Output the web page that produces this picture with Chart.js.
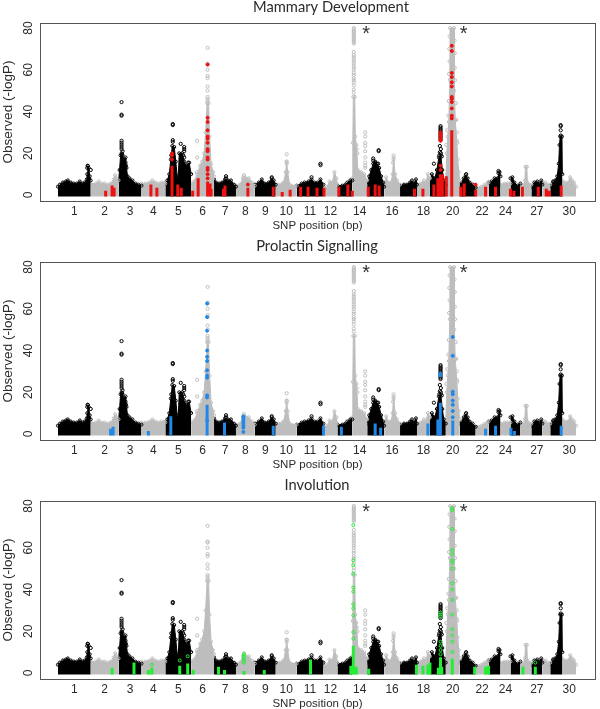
<!DOCTYPE html>
<html>
<head>
<meta charset="utf-8">
<style>
  html, body { margin: 0; padding: 0; background: #fff; overflow: hidden; }
  canvas { position: absolute; left: 0; }
</style>
<script src="https://cdn.jsdelivr.net/npm/chart.js@4"></script>
</head>
<body>
<canvas id="panel1" width="600" height="234" style="top:-3px"></canvas>
<canvas id="panel2" width="600" height="234" style="top:236px"></canvas>
<canvas id="panel3" width="600" height="234" style="top:475px"></canvas>
<script>
// x values are plot units along the genome axis, y values are -logP

const chromLabels = ['1','2','3','4','5','6','7','8','9','10','11','12','','14','','16','','18','','20','','22','','24','','','27','','','30'];
const chromStarts = [58,91,119,142,166,192,215,237,256,277,298,325,339,354,369,386,402,419,432,448,462,478,491,503,513,523,534,545,553,565];
const chromEnds = [91,119,142,166,192,215,237,256,277,298,325,339,354,369,386,402,419,432,448,462,478,491,503,513,523,534,545,553,565,579];
const yTicks = [0,20,40,60,80];

// upper edge of the solid mass of SNPs on each chromosome
const chr1 = [[58,4],[60,5],[63,6],[66,6.5],[68,7],[71,6],[74,5.5],[77,5.5],[80,6.5],[83,5.5],[85,6],[87,7.5],[87.5,10],[88,14],[89,13],[90,9],[91,7]];
const chr2 = [[91,5.5],[96,5.5],[99,6.5],[102,5.5],[105,5.5],[108,5],[111,5.5],[114,7.5],[115.5,9.5],[117,8],[119,7]];
const chr3 = [[119,7],[120,12],[121,19],[122,20],[123,19],[124,17],[126,18],[127,13],[128,9],[130,8],[133,7],[136,5.5],[139,5],[142,4.5]];
const chr4 = [[142,5.5],[146,5.5],[150,6],[153,7],[156,6],[159,5.5],[162,6],[165,6],[166,5.5]];
const chr5 = [[166,5.5],[168,7],[170,10],[171.5,17],[173,23.5],[175,23],[176.5,16],[178,9],[179,8],[180,20],[183,20],[185,16],[187,14],[190,15.5],[192,10]];
const chr6 = [[192,5.5],[195,6.5],[198,10],[201,14],[203,16],[205,20],[206.5,30],[208,44],[209.5,44],[210.5,28],[212,15],[214,11],[215,9]];
const chr7 = [[215,7.5],[217,6],[220,5.5],[223,6],[226,7.5],[229,7],[232,7],[235,5],[237,4]];
const chr8 = [[237,4.5],[241,5],[244,8],[247,8],[250,8],[253,6],[256,4.5]];
const chr9 = [[256,5],[260,6],[263,7.5],[266,5.5],[270,6],[273,8],[275,7],[277,5]];
const chr10 = [[277,4],[280,5],[283,5],[285,6],[287,11],[288,16],[289,11],[291,5],[298,4.5]];
const chr11 = [[298,4.5],[303,5.5],[306,6],[310,6.5],[313,7.5],[316,6],[319,6],[322,7.5],[325,5]];
const chr12 = [[325,3.5],[329,4],[331,6.5],[334,6],[336,11],[338,8],[339,5]];
const chr13 = [[339,4.5],[344,4.5],[347,5],[349,6],[352,7],[354,7]];
const chr14 = [[354,8],[354.5,25],[355,47],[356.5,47],[357,28],[358.5,22],[359.5,12],[363,11],[366,10],[369,7]];
const chr15 = [[369,5],[371,9],[373,12],[375,15],[377,16],[379,15],[381,13],[383,9],[385,6],[386,4]];
const chr16 = [[386,5],[388,8.5],[390,6],[393,6],[394.5,10],[395.5,18],[397,10],[399,7],[402,5]];
const chr17 = [[402,4.5],[406,5],[409,5],[412,6],[414,7],[416,5.5],[418,7.5],[419,5]];
const chr18 = [[419,5],[423,5.5],[426,7],[428,6],[430,10],[432,8]];
const chr19 = [[432,5],[434,10],[437,8],[439,12],[441,18],[443,19],[444.5,12],[446,7],[448,5]];
const chr20 = [[448,7],[449,20],[450,28],[451,35],[452,55],[452.3,80],[456.3,80],[456.6,50],[457.5,36],[459,26],[460,17],[461,11],[462,7]];
const chr21 = [[462,5],[464,6],[466,8],[468,9.5],[470,8],[472,6],[475,5],[478,3.5]];
const chr22 = [[478,3.5],[481,3.5],[484,4],[487,5],[491,6]];
const chr23 = [[491,6],[494,6.5],[497,8],[500,8],[502,11],[503,9]];
const chr24 = [[503,5],[507,5.5],[510,5.5],[513,5.5]];
const chr25 = [[513,8],[515,8.5],[517,6],[520,4.5],[523,5.5]];
const chr26 = [[523,4.5],[526,4.5],[527.5,7],[528,13.5],[529.5,13.5],[530,6],[534,5]];
const chr27 = [[534,4],[537,6],[540,6.5],[542,5.5],[544,7],[545,5]];
const chr28 = [[545,6],[548,6],[550,5],[553,5]];
const chr29 = [[553,4.5],[556,6],[558,7],[560,9],[561.5,15],[562.3,24],[563,28],[564.8,28],[565.2,10]];
const chr30 = [[565,7],[568,6],[571,6],[573,8.5],[575,7],[577,6],[579,4]];
const chromEdges = [chr1,chr2,chr3,chr4,chr5,chr6,chr7,chr8,chr9,chr10,chr11,chr12,chr13,chr14,chr15,chr16,chr17,chr18,chr19,chr20,chr21,chr22,chr23,chr24,chr25,chr26,chr27,chr28,chr29,chr30];

// single SNPs above the mass
const blackOutliers = [[88,14],[87.5,13],[91,12],[122,44.5],[122,38.5],[122,38],[122,26],[122,25],[122,24],[122,23],[122,22],[123,21],[122.5,19.5],[125,17],[126,15.5],[126.5,14],
  [173.5,34],[173.5,33.5],[173.5,26.3],[173.5,25.5],[172,19],[174,18.5],[181.5,24.5],[185,23],[185,22],[185,21],[184,19],[185,18],[183,17],[189,15.5],[227,9],[227,8],[273,8.5],[322,15],[322,14.3],[313,8.5],
  [380.5,21.5],[380.5,21],[375,17.5],[375,16.5],[377,15.5],[380,15],[442.7,33],[442.7,32.3],[442.7,31.6],[442.7,31],[442.7,30.3],[442.7,29.6],[442.7,29],[442.7,28.3],[442.7,27.6],[442.7,27],[442.7,26.3],
  [442,23.5],[443,22],[442,20.5],[443,20],[441.5,19],[444,18.5],[436,15],[468.5,10],[501,11.5],[501,10.5],[556,6.5],[563.5,33.5],[563.5,33],[563.5,31],[563.5,28.5]];
const grayOutliers = [[198,26],[198,18],[198,11],[208.5,70.5],[208.5,63],[208.5,62.5],[208.5,60],[208.5,57],[208.5,56],[208.5,52],[208.5,50],[208.5,47],[208.5,46],[208.5,45],[245,9.5],[245,8.5],
  [288,19.5],[288,16],[288,15],[284,5.5],[367,30],[367,28],[367,25],[367,23.5],[367,21],[367,18],[367,15.5],[367,14],[367,13],[358,24],[359,20],[395.5,19],[395.5,17],[395,15.5],
  [355.5,80],[355.5,79.3],[355.5,78.6],[355.5,78],[355.5,77.3],[355.5,76.6],[355.5,76],[355.5,75.3],[355.5,74.6],[355.5,74],[355.5,73.3],[355.5,72.6],
  [355.5,68.5],[355.5,67],[355.5,66],[355.5,65],[355.5,64],[355.5,63],[355.5,62],[355.5,61],[355.5,60],[355.5,58.5],[355.5,57.5],[355.5,56],[355.5,55],[355.5,54],[355.5,52.5],[355.5,50.5],[355.5,49],
  [451.8,76],[456.8,74],[451.5,70],[457,68],[451.8,64],[457,61],[451.3,58],[457.2,55],[451,45],[458,44],[450.5,38],[458.5,36],[449.5,31],[459,30],[459.5,25],[448.5,24]];

// highlighted gene sets: columns are [x, top], dots are [x, y]
const mammaryColumns = [[106,2],[112.5,4.5],[114.5,3.5],[151.5,5],[157.5,3.5],[172.7,14],[178.5,5],[182,3.5],[193.5,2],[199,8],[208.5,6.5],[211,5.5],[212,3],[224.5,3],[226,4.5],[249,3.5],[274.5,4],[283.5,1.5],[291.5,2.5],
  [302,4],[309.5,4],[318.5,3.5],[325.5,3.5],[340.5,4],[349.5,5],[354,2],[370,4],[377,5],[381,4.5],[416.5,3],[425,3],[436,5],[440,8],[442.5,10],[444.5,10],[448.5,9],[454,31],[463,4],[466.5,5.5],[478,2.5],[488,4],[498,4],[513,3],[516.5,2],[525,4],[541,4],[549,3],[552,2],[564,4.5]];
const mammaryDots = [[172.7,20],[172.7,19],[172.7,17],[208.5,62.5],[208.5,37],[208.5,35],[208.5,31],[208.5,28],[208.5,27],[208.5,25],[208.5,22],[208.5,21],[208.5,18],[208.5,17],[208.5,13],[208.5,12],[208.5,10],[208.5,8],[249,5],
  [442.7,30],[442.7,29],[442.7,28],[442.7,27],[442.7,26],[442.7,14],[442.7,12],[454,71.5],[454,69],[454,58.5],[454,56.5],[454,54],[454,52],[454,47],[454,46],[454,44.5],[454,41.5],[454,38],[454,36.7],[478,5]];
const prolactinColumns = [[111,2.5],[113.5,3.5],[149,1.5],[171.5,8.5],[208,14],[225.5,5.5],[274.5,4],[325,4],[343,3.5],[377,5],[382.5,3],[430,5],[442.5,15],[440,7],[455,6.5],[488,2.5],[498,4],[513.5,3],[517,1.5],[564,4]];
const prolactinDots = [[208,62.5],[208,56],[208,49.5],[208,40],[208,37],[208,35],[208,30.5],[208,28],[208,27],[208,18.5],[208,17.5],[208,6.5],[244.5,8.5],[244.5,8],[244.5,7],[244.5,6],[244.5,5],[244.5,4],[244.5,3],[244.5,1],
  [442.5,29],[442.5,28],[455,46.5],[455,37.5],[455,20.3],[455,19],[455,16],[455,14],[455,11],[455,8]];
const involutionColumns = [[112.5,2.5],[134.5,5],[149,1.5],[152.5,2.5],[180.5,3.5],[188.5,4.5],[194,1.5],[219.5,3],[225.5,1.5],[245,1],[265.5,1.5],[312,6.5],[355,13],[352.5,3.5],[358,3],[370.5,2],[418.5,4],[425,3.5],[430,4],[432,5],[440.5,2.5],[444,3],[442.7,7.5],[454.5,7],[477,3],[488,3],[491,3.5],[525.5,3],[538,3]];
const involutionDots = [[152.5,4],[180.5,6],[188.5,8],[245,9],[245,8],[245,7],[245,6],[245,5],[355,70.8],[355,54],[355,51.6],[355,47.6],[355,41],[355,39],[355,33],[355,31],[355,27.6],[355,19.6],[355,16.5],
  [442.7,29],[442.7,28],[442.7,27],[442.7,15],[442.7,13],[442.7,11],[442.7,9],[454.5,79],[454.5,78],[454.5,69],[454.5,59],[454.5,57],[454.5,54],[454.5,53],[454.5,50],[454.5,43],[454.5,40],[454.5,35],[454.5,28],[454.5,21],[454.5,18],[454.5,15],[454.5,10],[538,5]];

// the two asterisks over the large peaks
const starMarks = [[368,77],[466,77]];

const GRAY = '#bdbdbd';
const AXIS = '#555555';
const TEXT = '#2b2b2b';

function toPoints(pairs) {
  return pairs.map(p => ({ x: p[0], y: p[1] }));
}

// one thick line per column, broken by NaN points
function columnPoints(columns) {
  const points = [];
  columns.forEach(c => {
    points.push({ x: c[0], y: -0.7 }, { x: c[0], y: c[1] }, { x: NaN, y: NaN });
  });
  return points;
}

// box round the plot, the panel title (not centred the same in every panel) and the asterisks
function framePlugin(title, titleX) {
  return {
    id: 'frameBox',
    afterDraw(chart) {
      const a = chart.chartArea;
      const ctx = chart.ctx;
      ctx.save();
      ctx.strokeStyle = AXIS;
      ctx.lineWidth = 1;
      ctx.strokeRect(a.left + 0.5, a.top + 0.5, a.right - a.left, a.bottom - a.top);
      ctx.fillStyle = TEXT;
      ctx.font = '14.7px Lato';
      ctx.textAlign = 'center';
      ctx.textBaseline = 'middle';
      ctx.fillText(title, titleX, 10);
      ctx.fillStyle = '#333333';
      ctx.font = '20px "Liberation Sans"';
      starMarks.forEach(s => {
        ctx.fillText('*', chart.scales.x.getPixelForValue(s[0]), chart.scales.y.getPixelForValue(s[1]));
      });
      ctx.restore();
    }
  };
}

function drawPanel(id, title, titleX, color, columns, dots, dotFill) {
  // the first dataset is painted last, so the highlights come first
  const datasets = [];
  datasets.push({ data: toPoints(dots), pointRadius: 1.5, pointBorderWidth: 1, pointBorderColor: color, pointBackgroundColor: dotFill });
  datasets.push({ data: columnPoints(columns), showLine: true, spanGaps: false, borderColor: color, borderWidth: 3, borderCapStyle: 'butt', pointRadius: 0 });
  datasets.push({ data: toPoints(blackOutliers), pointRadius: 1.6, pointBorderWidth: 1, pointBorderColor: '#000000', pointBackgroundColor: '#ffffff00' });
  datasets.push({ data: toPoints(grayOutliers), pointRadius: 1.6, pointBorderWidth: 1, pointBorderColor: GRAY, pointBackgroundColor: '#ffffff00' });
  chromEdges.forEach((edge, i) => {
    const c = i % 2 === 0 ? '#000000' : GRAY;
    datasets.push({
      data: toPoints(edge),
      showLine: true,
      fill: { value: -0.7 },
      backgroundColor: c,
      borderColor: c,
      borderWidth: 1,
      pointRadius: 1.5,
      pointBackgroundColor: '#ffffff00',
      pointBorderColor: c,
      pointBorderWidth: 1
    });
  });

  return new Chart(document.getElementById(id), {
    type: 'scatter',
    data: { datasets: datasets },
    plugins: [framePlugin(title, titleX)],
    options: {
      responsive: false,
      animation: false,
      devicePixelRatio: 1,
      layout: { padding: { top: 26, right: 2 } },
      plugins: {
        legend: { display: false },
        tooltip: { enabled: false }
      },
      scales: {
        x: {
          type: 'linear',
          min: 40,
          max: 598,
          grid: { display: false, drawTicks: true, tickLength: 4, tickColor: AXIS },
          border: { display: false },
          afterBuildTicks: s => { s.ticks = chromStarts.map((v, i) => ({ value: (v + chromEnds[i]) / 2 })); },
          afterFit: s => { s.height = 30; },
          ticks: {
            autoSkip: false,
            maxRotation: 0,
            padding: -1,
            color: TEXT,
            font: { family: 'Liberation Sans', size: 12 },
            callback: (value, i) => chromLabels[i]
          },
          title: {
            display: true,
            text: 'SNP position (bp)',
            color: TEXT,
            font: { family: 'Liberation Sans', size: 11.5 },
            padding: { top: 0, bottom: -2 }
          }
        },
        y: {
          min: -2.87,
          max: 82.4,
          grid: { display: false, drawTicks: true, tickLength: 4, tickColor: AXIS },
          border: { display: false },
          afterBuildTicks: s => { s.ticks = yTicks.map(v => ({ value: v })); },
          afterFit: s => { s.width = 40; },
          ticks: {
            minRotation: 90,
            maxRotation: 90,
            crossAlign: 'center',
            padding: 1,
            color: TEXT,
            font: { family: 'Liberation Sans', size: 12 }
          },
          title: {
            display: true,
            text: 'Observed (-logP)',
            color: TEXT,
            font: { family: 'Liberation Sans', size: 13.5 },
            padding: { top: 0, bottom: 0 }
          }
        }
      }
    }
  });
}

drawPanel('panel1', 'Mammary Development', 331, '#ee1111', mammaryColumns, mammaryDots, '#ee1111');
drawPanel('panel2', 'Prolactin Signalling', 317, '#2288e8', prolactinColumns, prolactinDots, '#2288e8');
drawPanel('panel3', 'Involution', 317, '#22ee33', involutionColumns, involutionDots, '#ffffff00');
</script>
</body>
</html>
